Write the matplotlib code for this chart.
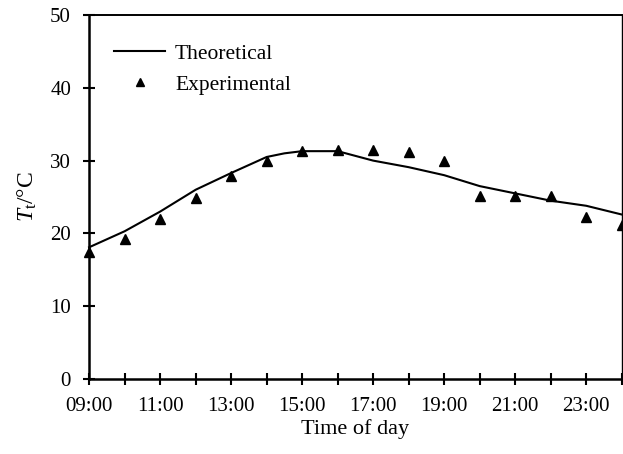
import numpy as np
import matplotlib
matplotlib.use("Agg")
import matplotlib.pyplot as plt
from matplotlib.ticker import MultipleLocator, FixedLocator, FuncFormatter

plt.rcParams["font.family"] = "Liberation Serif"
plt.rcParams["mathtext.fontset"] = "custom"
plt.rcParams["mathtext.rm"] = "Liberation Serif"
plt.rcParams["mathtext.it"] = "Liberation Serif:italic"

# heures de la journée (9 h -> 24 h)
heures_theo = [9, 10, 11, 12, 13, 14, 14.5, 15, 16, 17, 18, 19, 20, 21, 22, 23, 24]
temp_theo = [18.1, 20.3, 23.0, 26.0, 28.3, 30.5, 31.0, 31.3, 31.3, 30.0, 29.1,
             28.0, 26.5, 25.5, 24.5, 23.8, 22.6]

heures_exp = [9, 10, 11, 12, 13, 14, 15, 16, 17, 18, 19, 20, 21, 22, 23, 24]
temp_exp = [17.5, 19.3, 22.0, 24.9, 27.9, 29.9, 31.3, 31.5, 31.5, 31.2, 29.9,
            25.1, 25.1, 25.2, 22.2, 21.1]

heures_ticks = [9, 11, 13, 15, 17, 19, 21, 23]

fig = plt.figure(figsize=(6.23, 4.54), dpi=100)
ax = fig.add_axes([0.143, 0.165, 0.855, 0.802])

ax.plot(heures_theo, temp_theo, color="black", lw=1.5, label="Theoretical",
        clip_on=False, zorder=3)
ax.plot(heures_exp, temp_exp, ls="none", marker="^", ms=7.5, color="black",
        label="Experimental", clip_on=False, zorder=4)

ax.set_xlim(9, 24)
ax.set_ylim(0, 50)
ax.xaxis.set_major_locator(FixedLocator(heures_ticks))
ax.xaxis.set_minor_locator(MultipleLocator(1))
ax.xaxis.set_major_formatter(FuncFormatter(lambda v, p: f"{int(v):02d}:00"))
ax.yaxis.set_major_locator(MultipleLocator(10))
ax.tick_params(axis="both", which="both", direction="inout", length=8,
               width=1.5, labelsize=15, color="black")
ax.tick_params(axis="x", pad=9)
ax.tick_params(axis="y", pad=9)
for s in ax.spines.values():
    s.set_linewidth(1.8)
ax.spines["top"].set_linewidth(1.4)
ax.spines["right"].set_linewidth(1.0)

ax.set_xlabel("Time of day", fontsize=16, labelpad=2)
ax.set_ylabel(r"$T_{\mathrm{t}}$/°C", fontsize=17, labelpad=8)

ax.legend(loc="upper left", bbox_to_anchor=(0.03, 0.945), frameon=False,
          fontsize=15.5, handlelength=2.4, handletextpad=0.45,
          labelspacing=0.5, markerscale=0.75, borderaxespad=0)

fig.savefig("out.png", dpi=100)
